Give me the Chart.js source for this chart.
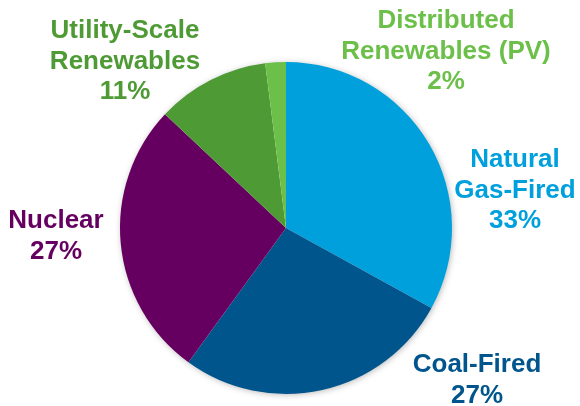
<!DOCTYPE html>
<html lang="en">
<head>
    <meta charset="UTF-8">
    <title>Generation Mix</title>
    <script src="https://cdn.jsdelivr.net/npm/chart.js"></script>
    <style>
        body { margin: 0; background: #fff; }
    </style>
</head>
<body>
<canvas id="mixChart" width="580" height="406"></canvas>

<script>
    // share of generation, clockwise from 12 o'clock
    const categories = ['Natural Gas-Fired', 'Coal-Fired', 'Nuclear', 'Utility-Scale Renewables', 'Distributed Renewables (PV)'];
    const shares = [33, 27, 27, 11, 2];
    const labelLines = [['Natural', 'Gas-Fired'], ['Coal-Fired'], ['Nuclear'], ['Utility-Scale', 'Renewables'], ['Distributed', 'Renewables (PV)']];
    const colors = ['#00a0dc', '#00558c', '#660060', '#4e9a35', '#6cc04a'];

    // where each label block sits, offset from the pie centre (first baseline)
    const labelOffsets = [[229, -61], [191, 144], [-230, 0], [-161, -190], [160, -200]];

    const pieShadow = {
        id: 'pieShadow',
        beforeDatasetsDraw(chart) {
            const arc = chart.getDatasetMeta(0).data[0];
            if (!arc) return;
            const ctx = chart.ctx;
            ctx.save();
            ctx.shadowColor = 'rgba(0,0,0,0.35)';
            ctx.shadowBlur = 7;
            ctx.shadowOffsetX = 1;
            ctx.shadowOffsetY = 1;
            ctx.fillStyle = '#fff';
            ctx.beginPath();
            ctx.arc(arc.x, arc.y, arc.outerRadius - 1, 0, Math.PI * 2);
            ctx.fill();
            ctx.restore();
        }
    };

    const sliceLabels = {
        id: 'sliceLabels',
        afterDatasetsDraw(chart) {
            const arc = chart.getDatasetMeta(0).data[0];
            const ctx = chart.ctx;
            ctx.save();
            ctx.font = 'bold 26px "Liberation Sans", Arial, sans-serif';
            ctx.textAlign = 'center';
            ctx.textBaseline = 'alphabetic';
            shares.forEach((v, i) => {
                const lines = labelLines[i].concat([v + '%']);
                const x = arc.x + labelOffsets[i][0];
                let y = arc.y + labelOffsets[i][1];
                ctx.fillStyle = colors[i];
                lines.forEach(t => {
                    ctx.fillText(t, x, y);
                    y += 30.5;
                });
            });
            ctx.restore();
        }
    };

    new Chart(document.getElementById('mixChart'), {
        type: 'pie',
        data: {
            labels: categories,
            datasets: [{
                data: shares,
                backgroundColor: colors,
                borderWidth: 0
            }]
        },
        options: {
            responsive: false,
            animation: false,
            layout: { padding: { left: 120, right: 128, top: 62, bottom: 12 } },
            plugins: {
                legend: { display: false },
                tooltip: { enabled: false }
            }
        },
        plugins: [pieShadow, sliceLabels]
    });
</script>
</body>
</html>
